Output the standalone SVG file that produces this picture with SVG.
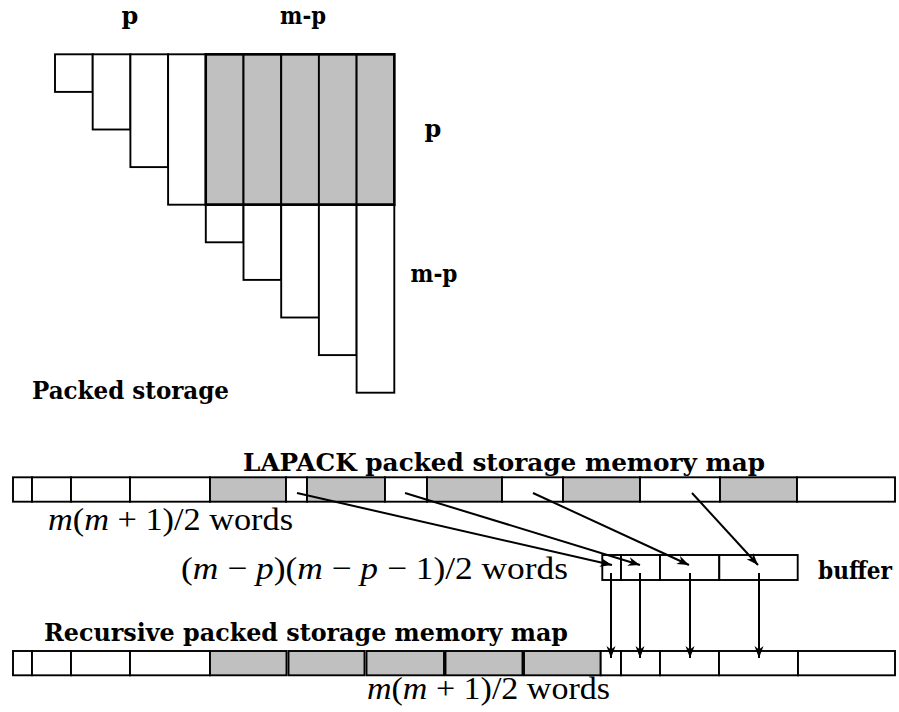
<svg xmlns="http://www.w3.org/2000/svg" width="899" height="712" viewBox="0 0 899 712">
<defs>
<style>
.w{fill:#ffffff;stroke:#000;stroke-width:1.9}
.g{fill:#c0c0c0;stroke:#000;stroke-width:1.9}
.c{stroke:#000;stroke-width:2;fill:none;marker-end:url(#ah)}
</style>
<marker id="ah" markerUnits="userSpaceOnUse" markerWidth="14" markerHeight="10" refX="12" refY="5" orient="auto">
<path d="M0,0.5 L12,5 L0,9.5 L3.5,5 z" fill="#000"/>
</marker>
</defs>
<rect width="899" height="712" fill="#fff"/>

<g id="packed-triangle">
<rect class="w" x="55" y="54.3" width="37.7" height="37.6"/>
<rect class="w" x="92.7" y="54.3" width="37.7" height="75.2"/>
<rect class="w" x="130.4" y="54.3" width="37.7" height="112.8"/>
<rect class="w" x="168.1" y="54.3" width="37.7" height="150.4"/>
<rect class="g" x="205.8" y="54.3" width="37.7" height="150.4"/>
<rect class="g" x="243.5" y="54.3" width="37.7" height="150.4"/>
<rect class="g" x="281.2" y="54.3" width="37.7" height="150.4"/>
<rect class="g" x="318.9" y="54.3" width="37.7" height="150.4"/>
<rect class="g" x="356.6" y="54.3" width="37.7" height="150.4"/>
<rect class="w" x="205.8" y="204.7" width="37.7" height="37.6"/>
<rect class="w" x="243.5" y="204.7" width="37.7" height="75.2"/>
<rect class="w" x="281.2" y="204.7" width="37.7" height="112.8"/>
<rect class="w" x="318.9" y="204.7" width="37.7" height="150.4"/>
<rect class="w" x="356.6" y="204.7" width="37.7" height="188"/>
<rect x="205.8" y="54.3" width="188.5" height="150.4" fill="none" stroke="#000" stroke-width="2.5"/>
</g>

<g id="triangle-labels" font-family="DejaVu Serif, serif" font-weight="bold" fill="#000">
<text x="130" y="24" font-size="24" text-anchor="middle">p</text>
<text x="303" y="24" font-size="24" textLength="46" lengthAdjust="spacingAndGlyphs" text-anchor="middle">m-p</text>
<text x="433" y="137" font-size="24" text-anchor="middle">p</text>
<text x="434" y="282" font-size="24" textLength="47" lengthAdjust="spacingAndGlyphs" text-anchor="middle">m-p</text>
<text x="32" y="399" font-size="24" textLength="197" lengthAdjust="spacingAndGlyphs">Packed storage</text>
</g>

<g id="lapack-map">
<text x="243" y="471" font-family="DejaVu Serif, serif" font-weight="bold" font-size="24" textLength="522" lengthAdjust="spacingAndGlyphs">LAPACK packed storage memory map</text>
<rect class="w" x="13" y="477.3" width="19" height="24.4"/>
<rect class="w" x="32" y="477.3" width="39" height="24.4"/>
<rect class="w" x="71" y="477.3" width="59" height="24.4"/>
<rect class="w" x="130" y="477.3" width="80" height="24.4"/>
<rect class="g" x="210" y="477.3" width="76" height="24.4"/>
<rect class="w" x="286" y="477.3" width="21" height="24.4"/>
<rect class="g" x="307" y="477.3" width="78" height="24.4"/>
<rect class="w" x="385" y="477.3" width="42" height="24.4"/>
<rect class="g" x="427" y="477.3" width="75" height="24.4"/>
<rect class="w" x="502" y="477.3" width="61" height="24.4"/>
<rect class="g" x="563" y="477.3" width="77" height="24.4"/>
<rect class="w" x="640" y="477.3" width="80" height="24.4"/>
<rect class="g" x="720" y="477.3" width="77" height="24.4"/>
<rect class="w" x="797" y="477.3" width="98" height="24.4"/>
<text x="48" y="530" font-family="Liberation Serif, DejaVu Serif, serif" font-size="32" textLength="245" lengthAdjust="spacingAndGlyphs"><tspan font-style="italic">m</tspan>(<tspan font-style="italic">m</tspan> + 1)/2 words</text>
</g>

<g id="buffer">
<rect class="w" x="602.3" y="555" width="18.7" height="25"/>
<rect class="w" x="621" y="555" width="39" height="25"/>
<rect class="w" x="660" y="555" width="59.3" height="25"/>
<rect class="w" x="719.3" y="555" width="78.4" height="25"/>
<text x="181" y="579" font-family="Liberation Serif, DejaVu Serif, serif" font-size="32" textLength="387" lengthAdjust="spacingAndGlyphs">(<tspan font-style="italic">m</tspan> − <tspan font-style="italic">p</tspan>)(<tspan font-style="italic">m</tspan> − <tspan font-style="italic">p</tspan> − 1)/2 words</text>
<text x="818" y="579" font-family="DejaVu Serif, serif" font-weight="bold" font-size="24" textLength="74" lengthAdjust="spacingAndGlyphs">buffer</text>
</g>

<g id="recursive-map">
<text x="44" y="641" font-family="DejaVu Serif, serif" font-weight="bold" font-size="24" textLength="524" lengthAdjust="spacingAndGlyphs">Recursive packed storage memory map</text>
<rect class="w" x="13" y="651" width="19" height="24.3"/>
<rect class="w" x="32" y="651" width="39" height="24.3"/>
<rect class="w" x="71" y="651" width="59" height="24.3"/>
<rect class="w" x="130" y="651" width="80" height="24.3"/>
<rect class="g" x="210" y="651" width="76.5" height="24.3"/>
<rect class="g" x="288.5" y="651" width="76" height="24.3"/>
<rect class="g" x="366.5" y="651" width="77.5" height="24.3"/>
<rect class="g" x="445.5" y="651" width="77" height="24.3"/>
<rect class="g" x="524" y="651" width="76.7" height="24.3"/>
<rect class="w" x="600.7" y="651" width="20.3" height="24.3"/>
<rect class="w" x="621" y="651" width="39" height="24.3"/>
<rect class="w" x="660" y="651" width="59" height="24.3"/>
<rect class="w" x="719" y="651" width="79" height="24.3"/>
<rect class="w" x="798" y="651" width="97" height="24.3"/>
<text x="367" y="699" font-family="Liberation Serif, DejaVu Serif, serif" font-size="32" textLength="243" lengthAdjust="spacingAndGlyphs"><tspan font-style="italic">m</tspan>(<tspan font-style="italic">m</tspan> + 1)/2 words</text>
</g>

<g id="connectors">
<line class="c" x1="297" y1="493" x2="612" y2="565"/>
<line class="c" x1="405" y1="493" x2="640" y2="565"/>
<line class="c" x1="533" y1="493" x2="689" y2="565"/>
<line class="c" x1="692" y1="493" x2="758" y2="565"/>
<line class="c" x1="611" y1="573" x2="611" y2="658"/>
<line class="c" x1="640" y1="573" x2="640" y2="658"/>
<line class="c" x1="690" y1="573" x2="690" y2="658"/>
<line class="c" x1="759" y1="573" x2="759" y2="658"/>
</g>
</svg>
